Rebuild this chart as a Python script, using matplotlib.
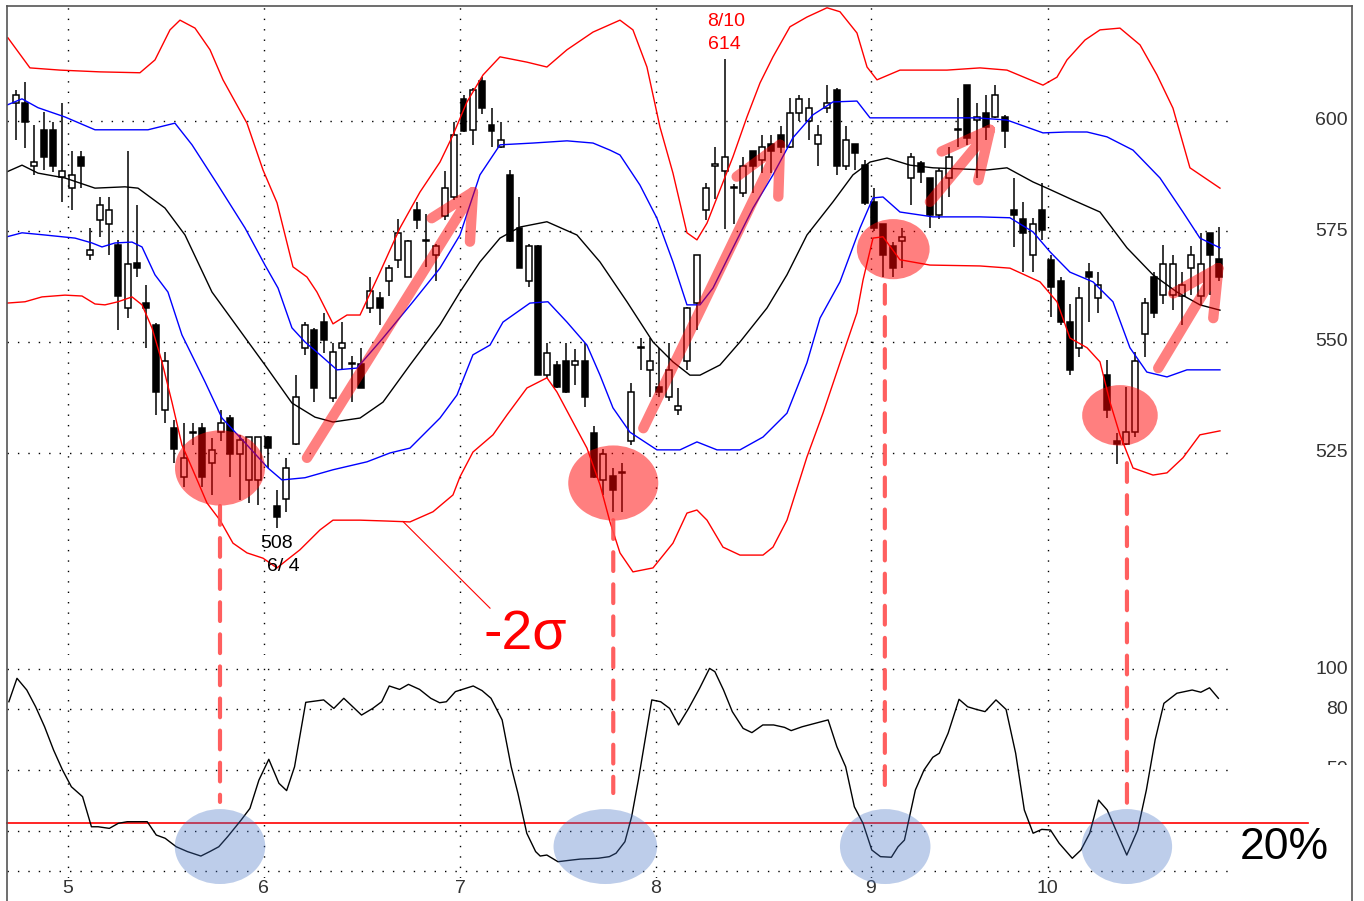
import numpy as np
import matplotlib
matplotlib.use("Agg")
import matplotlib.pyplot as plt
from matplotlib.patches import Ellipse, Rectangle, ConnectionPatch
from matplotlib.lines import Line2D

# ---------------- data ----------------
open_ = [604.0, 604.0, 589.7, 598.0, 598.0, 587.4, 584.8, 591.9, 569.7, 577.6,
         576.6, 571.9, 557.6, 567.8, 558.9, 553.9, 534.6, 530.6, 519.5, 529.6,
         530.6, 522.6, 529.6, 532.7, 524.6, 518.8, 518.8, 528.4, 512.8, 514.5,
         526.9, 548.6, 552.7, 554.6, 537.4, 548.6, 545.0, 545.0, 557.6, 559.9,
         563.7, 568.6, 564.8, 579.9, 572.9, 569.7, 578.4, 582.7, 605.0, 598.0,
         609.0, 599.0, 594.2, 587.8, 575.7, 563.7, 571.8, 542.5, 544.8, 545.7,
         544.8, 545.7, 529.5, 518.8, 519.7, 520.5, 527.5, 548.6, 543.7, 539.9,
         537.6, 534.6, 545.7, 558.8, 579.9, 589.9, 588.7, 584.8, 583.6, 593.1,
         591.2, 594.8, 596.8, 594.2, 601.7, 599.9, 594.8, 602.9, 607.0, 589.7,
         594.8, 590.1, 581.7, 576.6, 571.8, 572.9, 587.0, 590.6, 587.0, 578.7,
         587.0, 598.0, 608.1, 600.2, 601.7, 601.0, 601.0, 579.9, 577.8, 569.7,
         579.9, 568.5, 563.7, 554.6, 548.7, 565.8, 560.0, 542.5, 527.5, 526.9,
         529.6, 551.7, 564.8, 560.6, 560.6, 560.3, 566.8, 560.5, 574.6, 568.8]
high_ = [607.0, 608.9, 599.1, 602.1, 599.8, 604.0, 593.1, 593.1, 575.7, 582.9,
         582.9, 573.1, 593.1, 581.0, 562.8, 554.2, 547.7, 532.4, 531.6, 531.6,
         531.6, 528.2, 534.6, 533.5, 529.0, 528.6, 528.6, 528.8, 516.5, 523.7,
         542.5, 554.6, 553.1, 556.5, 549.7, 554.5, 546.9, 548.6, 564.8, 561.4,
         567.4, 577.8, 573.1, 581.7, 578.9, 572.1, 588.7, 599.8, 605.9, 607.4,
         610.0, 603.0, 599.8, 588.9, 582.9, 572.1, 571.9, 549.7, 545.6, 549.7,
         548.4, 549.7, 530.9, 525.7, 521.5, 522.6, 540.7, 550.8, 550.8, 548.6,
         549.7, 539.7, 558.0, 569.7, 585.9, 594.2, 614.0, 585.7, 591.9, 593.1,
         596.8, 596.8, 598.9, 605.1, 605.9, 605.1, 599.1, 608.1, 607.4, 598.9,
         594.8, 591.2, 584.8, 576.6, 572.7, 575.7, 592.7, 590.9, 587.0, 589.3,
         594.2, 605.1, 608.1, 604.0, 605.9, 608.1, 601.4, 587.0, 581.7, 578.0,
         585.9, 569.7, 564.8, 558.7, 562.5, 567.8, 565.9, 545.9, 529.4, 539.9,
         547.8, 559.9, 565.9, 571.9, 569.7, 565.9, 571.8, 574.6, 574.6, 575.9]
low_ = [595.7, 593.8, 587.8, 588.9, 588.5, 581.7, 579.9, 584.8, 568.5, 573.8,
        569.7, 552.7, 555.4, 564.8, 548.6, 533.5, 531.6, 522.6, 517.3, 526.7,
        517.3, 515.4, 527.5, 519.5, 514.3, 513.5, 513.1, 521.4, 508.0, 511.6,
        526.7, 547.1, 536.5, 547.4, 536.5, 544.0, 536.5, 539.5, 556.5, 553.9,
        560.5, 566.7, 564.6, 575.6, 567.0, 563.7, 577.6, 582.1, 597.6, 594.6,
        601.5, 594.0, 593.8, 572.7, 566.7, 562.5, 542.5, 541.8, 539.5, 538.4,
        540.3, 535.4, 519.2, 515.4, 511.6, 511.6, 526.7, 543.7, 537.6, 537.6,
        536.7, 533.5, 543.7, 552.7, 577.6, 582.4, 575.6, 576.6, 582.7, 583.6,
        588.2, 588.2, 592.7, 593.8, 599.9, 595.7, 589.7, 601.7, 587.8, 588.9,
        588.9, 581.0, 575.0, 564.8, 564.8, 566.7, 581.0, 585.9, 575.7, 577.8,
        582.7, 594.2, 594.6, 587.0, 595.7, 600.6, 593.8, 571.6, 565.8, 565.8,
        573.1, 555.7, 553.9, 542.5, 546.7, 554.6, 556.5, 532.7, 522.3, 526.7,
        528.6, 546.7, 555.4, 558.7, 557.2, 553.9, 560.6, 558.4, 560.6, 563.7]
close_ = [605.9, 599.8, 590.8, 591.9, 589.7, 588.7, 587.8, 589.7, 570.8, 581.0,
          579.9, 560.5, 567.6, 566.8, 557.8, 538.8, 545.7, 525.8, 523.7, 529.4,
          519.5, 525.6, 531.6, 524.6, 527.8, 528.4, 528.4, 526.0, 510.5, 521.4,
          537.6, 553.9, 539.5, 550.5, 547.7, 549.7, 545.0, 539.7, 561.5, 557.6,
          566.8, 574.6, 572.9, 577.6, 572.9, 571.8, 584.8, 596.8, 597.7, 607.0,
          602.9, 597.7, 595.7, 572.9, 566.8, 571.8, 542.5, 547.4, 539.9, 538.8,
          545.7, 537.6, 519.5, 524.7, 516.5, 520.4, 538.8, 548.6, 545.7, 538.8,
          543.7, 535.6, 557.8, 569.7, 584.8, 589.9, 591.9, 584.8, 589.7, 589.7,
          594.2, 593.1, 594.2, 601.7, 605.0, 602.9, 596.8, 604.0, 589.7, 595.7,
          592.8, 581.5, 575.7, 569.7, 566.8, 573.8, 591.9, 588.5, 578.7, 588.7,
          591.9, 598.0, 596.1, 601.0, 598.7, 605.9, 597.7, 578.7, 574.6, 576.6,
          575.3, 562.5, 554.5, 543.7, 559.9, 564.8, 562.8, 534.6, 526.9, 529.6,
          545.7, 558.8, 556.5, 567.6, 567.6, 562.8, 569.7, 567.6, 569.7, 564.8]

# Bollinger bands (day index, price)
upper2_x = [-0.83, 1.53, 4.75, 9.04, 13.32, 14.93, 16.54, 17.61, 19.22, 20.83, 22.22, 24.79, 26.51,
            28.01, 29.72, 31.22, 32.29, 34.01, 35.51, 36.91, 39.05, 41.19, 43.33, 45.48, 46.87,
            48.37, 50.09, 51.91, 54.8, 56.94, 59.09, 61.88, 64.77, 66.16, 67.66, 69.06, 70.45,
            71.95, 73.02, 74.1, 75.49, 76.88, 78.38, 79.78, 81.17, 82.99, 84.81, 86.96, 88.35,
            90.17, 91.25, 92.32, 94.78, 99.82, 103.36, 106.25, 110.11, 111.61, 112.68, 114.61,
            116.22, 118.36, 120.51, 122.33, 124.04, 125.86, 129.08]
upper2_y = [618.8, 612.0, 611.5, 611.1, 610.9, 613.8, 620.6, 622.8, 621.0, 616.1, 609.3, 599.5, 588.9,
            581.5, 567.0, 564.7, 561.3, 554.1, 556.1, 556.1, 565.8, 575.8, 583.9, 590.7, 596.8,
            604.3, 610.4, 614.5, 613.3, 612.2, 616.1, 620.1, 622.8, 620.6, 612.2, 598.6, 588.2,
            574.7, 573.1, 576.9, 584.4, 591.9, 600.9, 608.6, 614.5, 621.3, 623.5, 625.6, 624.7,
            619.9, 612.2, 609.3, 611.5, 611.5, 612.0, 611.5, 608.1, 609.9, 613.8, 618.3,
            620.6, 621.0, 617.2, 610.4, 602.9, 589.4, 584.8]
upper1_x = [-0.93, 0.68, 2.39, 5.28, 8.5, 14.18, 17.07, 18.9, 21.68, 24.58, 26.72, 28.12, 29.61,
            31.01, 32.62, 34.44, 36.58, 39.37, 42.58, 45.48, 47.62, 49.76, 51.91, 55.44, 59.09,
            61.88, 63.7, 64.77, 66.91, 68.73, 70.45, 71.95, 73.35, 74.74, 76.88, 79.03, 81.17,
            83.31, 85.46, 87.6, 90.17, 91.57, 93.39, 98.32, 103.03, 106.25, 110.11, 112.68,
            114.83, 116.97, 119.76, 122.65, 125.11, 126.93, 129.08]
upper1_y = [603.6, 605.0, 603.0, 600.9, 598.0, 598.0, 599.5, 594.6, 585.5, 575.8, 567.4, 562.2, 553.2,
            550.0, 547.1, 543.7, 544.1, 550.9, 559.1, 566.7, 574.2, 587.8, 594.6, 595.0, 595.5,
            595.0, 593.4, 592.3, 585.5, 578.0, 568.1, 558.4, 558.4, 562.2, 571.3, 580.3, 587.8,
            596.2, 601.4, 604.3, 604.5, 600.7, 600.7, 600.7, 600.7, 600.2, 597.3, 597.5,
            597.5, 596.4, 593.4, 587.1, 579.4, 573.5, 571.3]
mid_x = [-0.93, 0.68, 2.39, 5.28, 8.5, 11.71, 13.11, 16.0, 18.15, 21.04, 23.83, 26.72, 29.61,
         32.08, 34.01, 36.91, 39.37, 42.26, 45.48, 47.62, 49.76, 51.91, 54.05, 56.94, 60.16,
         62.63, 65.52, 68.31, 70.45, 72.27, 73.35, 75.49, 77.63, 80.53, 82.67, 84.81, 87.6,
         89.74, 91.57, 93.39, 95.85, 98.32, 104.11, 106.25, 109.04, 110.54, 113.33, 116.22,
         119.11, 121.9, 124.47, 126.93, 129.08]
mid_y = [588.5, 590.0, 588.2, 587.1, 584.8, 585.1, 584.8, 580.3, 574.2, 561.3, 553.2, 544.8, 536.2,
         533.0, 531.9, 532.8, 536.4, 544.8, 553.9, 561.3, 568.1, 573.5, 576.0, 577.2, 574.2,
         568.1, 559.1, 550.0, 545.5, 542.5, 542.5, 544.8, 550.0, 557.7, 565.2, 574.2, 581.7,
         587.8, 590.7, 591.6, 590.0, 589.4, 588.9, 589.4, 586.2, 584.8, 582.1, 579.4,
         571.3, 565.2, 561.3, 558.4, 557.2]
lower1_x = [-0.93, 0.68, 3.14, 6.36, 8.18, 9.25, 10.64, 12.47, 13.54, 14.93, 16.32, 17.82, 20.29,
            22.11, 24.58, 27.04, 28.54, 31.01, 34.01, 37.66, 40.12, 42.26, 45.48, 47.3, 49.01,
            50.84, 52.23, 55.12, 57.05, 59.09, 61.23, 62.63, 64.02, 65.84, 68.73, 71.2, 73.02,
            75.17, 77.63, 80.1, 82.67, 84.81, 86.21, 88.35, 90.5, 91.89, 92.96, 94.78, 98.32,
            103.36, 106.57, 109.04, 110.86, 113.0, 115.47, 117.61, 119.43, 121.24, 123.4,
            125.54, 129.08]
lower1_y = [573.8, 574.7, 574.2, 573.5, 572.4, 571.5, 572.4, 572.6, 571.5, 565.2, 561.3, 551.6, 541.0,
            532.8, 527.2, 521.5, 518.8, 519.3, 521.1, 522.9, 524.9, 526.0, 532.8, 538.0, 547.1,
            549.3, 554.5, 558.8, 559.1, 554.5, 549.3, 542.5, 535.1, 529.6, 525.6, 525.6, 527.4,
            525.6, 525.6, 528.5, 533.9, 545.3, 555.4, 563.6, 575.8, 582.6, 582.8, 579.4, 578.3,
            578.3, 578.1, 574.9, 570.4, 565.8, 563.6, 559.1, 548.7, 543.2, 542.1,
            543.7, 543.7]
lower2_x = [-0.93, 1.0, 2.82, 5.28, 7.11, 8.5, 9.57, 10.97, 12.47, 13.54, 14.61, 15.68, 16.75,
            17.82, 18.9, 20.5, 21.9, 23.29, 24.79, 26.51, 28.01, 29.08, 30.47, 32.62, 34.01,
            36.91, 39.8, 42.26, 44.73, 46.87, 47.62, 49.01, 51.16, 52.66, 54.8, 56.94, 58.01,
            59.73, 61.23, 62.63, 63.7, 64.77, 66.16, 68.31, 70.45, 71.95, 73.02, 74.1, 75.81,
            77.63, 80.1, 81.17, 82.67, 84.81, 86.53, 88.35, 90.17, 90.82, 91.89, 92.96, 94.78,
            97.99, 103.36, 106.57, 109.79, 111.61, 113.0, 114.83, 116.22, 117.29, 118.36,
            119.76, 121.9, 123.4, 125.11, 126.93, 129.08]
lower2_y = [558.8, 559.1, 560.2, 560.6, 560.4, 558.6, 558.4, 559.1, 560.2, 558.4, 553.2, 545.5, 536.4,
            526.7, 521.5, 513.6, 509.7, 504.5, 502.3, 501.1, 498.9, 500.7, 503.0, 507.5, 509.7,
            509.7, 509.5, 509.3, 511.6, 515.4, 519.5, 525.1, 529.0, 533.5, 539.6, 541.9, 538.7,
            531.9, 526.0, 517.7, 509.3, 502.3, 498.0, 498.9, 504.5, 511.3, 512.0, 509.7, 503.6,
            501.8, 501.8, 503.6, 509.7, 524.0, 533.9, 545.3, 556.6, 564.0, 573.5, 573.8, 568.6,
            567.4, 567.2, 566.7, 563.6, 559.1, 550.9, 548.7, 545.5, 536.4, 529.0,
            521.5, 519.9, 520.4, 523.8, 529.0, 529.9]

# oscillator (%)
osc_x = [-0.73, 0.14, 1.19, 2.14, 3.1, 4.06, 5.02, 5.97, 7.17, 8.12, 8.84, 10.04, 11.0, 11.95, 14.1,
         15.07, 16.02, 17.21, 18.41, 19.85, 20.8, 21.77, 22.72, 24.16, 25.11, 26.07, 27.13, 28.22,
         29.04, 29.89, 31.09, 33.01, 34.1, 35.17, 37.07, 38.27, 39.23, 40.04, 41.15, 42.1, 43.29,
         44.49, 45.44, 46.16, 47.13, 49.04, 49.99, 50.95, 52.14, 53.11, 53.83, 54.78, 55.73, 56.22,
         56.93, 58.12, 59.56, 60.52, 62.43, 63.63, 64.35, 65.3, 66.02, 66.74, 67.46, 68.18, 69.13,
         70.09, 71.05, 72.13, 73.3, 74.37, 74.94, 75.87, 76.81, 77.97, 78.91, 80.08, 81.24, 82.41,
         83.12, 84.29, 85.68, 87.08, 88.02, 88.96, 89.89, 90.82, 91.76, 92.69, 93.86, 94.57, 95.26,
         96.43, 97.36, 98.3, 99.0, 99.94, 101.11, 102.04, 102.97, 103.9, 105.07, 106.15, 107.18,
         108.11, 109.05, 109.98, 110.91, 111.85, 113.25, 114.18, 115.12, 116.06, 116.99, 117.92,
         119.09, 120.26, 121.19, 122.13, 123.07, 124.46, 126.1, 127.03, 127.96, 128.91]
osc_y = [83.8, 95.4, 89.6, 81.3, 71.4, 59.9, 50.0, 41.7, 36.8, 21.9, 21.9, 21.1, 23.6, 24.4, 24.4,
         17.8, 16.2, 12.0, 9.6, 7.4, 9.6, 12.0, 17.0, 25.2, 31.0, 45.0, 55.3, 43.4,
         39.8, 51.6, 83.5, 84.7, 80.5, 85.5, 77.2, 80.5, 83.8, 91.6, 89.9, 92.4, 89.9,
         85.5, 83.3, 83.8, 88.8, 91.6, 89.3, 85.5, 74.8, 51.6, 38.5, 18.7, 9.6, 7.4,
         7.9, 4.6, 5.4, 5.9, 6.3, 7.1, 8.8, 14.5, 26.9, 45.0, 64.9, 84.7, 83.8,
         80.5, 72.3, 80.5, 90.4, 100.3, 98.7, 89.6, 78.9, 70.6, 68.5, 72.3, 72.3, 71.1,
         69.5, 71.4, 73.1, 74.8, 61.5, 51.6, 31.8, 23.6, 10.4, 7.1, 6.8, 12.0, 15.3,
         40.1, 50.0, 56.3, 58.3, 68.2, 85.0, 81.3, 80.0, 78.9, 84.7, 80.0, 58.3,
         30.2, 18.7, 20.6, 20.3, 13.7, 6.3, 10.4, 18.7, 35.1, 30.2, 20.3,
         7.9, 20.3, 40.1, 64.9, 83.0, 88.0, 89.6, 88.5, 90.7, 85.5]

month_pos = [5.57, 26.58, 47.62, 68.63, 91.64, 110.61]
month_labels = ["5", "6", "7", "8", "9", "10"]
price_ticks = [600, 575, 550, 525]
osc_ticks = [100, 80, 50, 20, 0]
osc_labels = ["100", "80", "50"]

# ---------------- figure ----------------
W, H = 1364, 901
fig = plt.figure(figsize=(W / 100, H / 100), dpi=100)
fig.patch.set_facecolor("white")

def fx(px):
    return px / W

def fy(py):
    return 1 - py / H

L, R = 7, 1228
ax1 = fig.add_axes([fx(L), fy(655), (R - L) / W, (655 - 6) / H])
ax2 = fig.add_axes([fx(L), fy(878), (R - L) / W, (878 - 660) / H])
for ax in (ax1, ax2):
    ax.set_xlim(-0.93, 129.94)
    for s in ax.spines.values():
        s.set_visible(False)
    ax.set_xticks([])
    ax.set_yticks([])
    ax.patch.set_alpha(0)
ax1.set_ylim(479.2, 626.0)
ax2.set_ylim(-3.47, 104.46)

dot = dict(color="black", lw=1.0, ls=(0, (1, 6.5)), zorder=1)
for m in month_pos:
    ax1.axvline(m, **dot)
    ax2.axvline(m, **dot)
for p in price_ticks:
    ax1.axhline(p, **dot)
for v in osc_ticks:
    ax2.axhline(v, **dot)

# candles
o = np.array(open_); h = np.array(high_); lo = np.array(low_); c = np.array(close_)
x = np.arange(len(c))
ax1.vlines(x, lo, h, color="black", lw=1.1, zorder=3)
up = c >= o
body = np.maximum(np.abs(c - o), 0.25)
bot = np.minimum(o, c)
ax1.bar(x[up], body[up], bottom=bot[up], width=0.64, color="white",
        edgecolor="black", linewidth=1.1, zorder=4)
ax1.bar(x[~up], body[~up], bottom=bot[~up], width=0.64, color="black",
        edgecolor="black", linewidth=1.1, zorder=4)

# bands
blw = 1.0
ax1.plot(upper2_x, upper2_y, color="#ff0000", lw=blw, zorder=5)
ax1.plot(lower2_x, lower2_y, color="#ff0000", lw=blw, zorder=5)
ax1.plot(upper1_x, upper1_y, color="#0000ff", lw=blw, zorder=5)
ax1.plot(lower1_x, lower1_y, color="#0000ff", lw=blw, zorder=5)
ax1.plot(mid_x, mid_y, color="black", lw=blw, zorder=5)

# oscillator
ax2.plot(osc_x, osc_y, color="black", lw=1.0, zorder=5)

# ---------- annotations ----------
RED_A = (1.0, 0.0, 0.0, 0.5)
for (cx, cy, w, hh) in [(21.9, 521.5, 9.65, 17.0), (64.05, 518.1, 9.65, 17.0),
                        (94.06, 571.0, 7.8, 13.6), (118.36, 533.4, 8.1, 13.7)]:
    ax1.add_patch(Ellipse((cx, cy), w, hh, facecolor=RED_A, edgecolor="none", zorder=6))

BLUE_A = (0.267, 0.447, 0.769, 0.35)
for (cx, w) in [(21.9, 9.7), (63.2, 11.1), (93.2, 9.7), (119.1, 9.7)]:
    ax2.add_patch(Ellipse((cx, 12.1), w, 37.1, facecolor=BLUE_A, edgecolor="none",
                          zorder=6, clip_on=False))

# dashed connectors
for (xi, pa, vb) in [(21.9, 512.9, 34.2), (64.05, 509.7, 38.6),
                     (93.16, 562.9, 41.6), (119.11, 522.6, 31.2)]:
    cp = ConnectionPatch(xyA=(xi, pa), coordsA=ax1.transData, xyB=(xi, vb), coordsB=ax2.transData,
                         color=(1, 0.3, 0.3, 0.9), lw=3.0, ls=(0, (4.5, 3.2)), zorder=7)
    fig.add_artist(cp)

# arrows (shaft + head as one path)
arrows = [
    ([31.22, 49.01, np.nan, 44.59, 49.01, 48.69], [523.8, 583.9, np.nan, 578.0, 583.9, 572.7]),
    ([67.27, 81.92, np.nan, 77.28, 81.92, 81.74], [530.5, 594.6, np.nan, 587.4, 594.6, 582.9]),
    ([97.99, 104.42, np.nan, 99.25, 104.42, 103.17], [581.7, 598.0, np.nan, 593.1, 598.0, 586.6]),
    ([122.46, 128.9, np.nan, 124.07, 128.9, 128.36], [544.1, 566.7, np.nan, 561.0, 566.7, 555.4]),
]
for ax_, ay_ in arrows:
    ax1.plot(ax_, ay_, color=RED_A, lw=7.5, solid_capstyle="round",
             solid_joinstyle="round", zorder=8)

# -2sigma callout
ax1.plot([41.51, 50.84], [509.4, 489.8], color="red", lw=0.8, zorder=5, clip_on=False)
ax1.text(54.6, 483.7, "-2σ", color="red", fontsize=40, ha="center", va="center",
         family=["Liberation Sans", "DejaVu Sans"], zorder=9)

lab_font = ["Liberation Sans", "DejaVu Sans"]
ax1.text(28.0, 504.5, "508", color="black", fontsize=14, ha="center", va="center", family=lab_font, zorder=9)
ax1.text(28.65, 499.3, "6/ 4", color="black", fontsize=14, ha="center", va="center", family=lab_font, zorder=9)
ax1.text(76.1, 622.4, "8/10", color="red", fontsize=14, ha="center", va="center", family=lab_font, zorder=9)
ax1.text(76.0, 617.2, "614", color="red", fontsize=14, ha="center", va="center", family=lab_font, zorder=9)

# right axis labels
lab_x = (1348 - L) / (R - L)
for p in price_ticks:
    ax1.text(lab_x, p, str(p), transform=ax1.get_yaxis_transform(), ha="right", va="center",
             fontsize=14, color="#333333", family=lab_font, clip_on=False)
for v, s in zip(osc_ticks[:3], osc_labels):
    ax2.text(lab_x, v, s, transform=ax2.get_yaxis_transform(), ha="right", va="center",
             fontsize=14, color="#333333", family=lab_font, clip_on=False, zorder=2)
# white cover hiding lower labels
ax2.add_patch(Rectangle(((1290 - L) / (R - L), -10), (1350 - 1290) / (R - L), 62.5,
                        transform=ax2.get_yaxis_transform(), facecolor="white",
                        edgecolor="none", clip_on=False, zorder=2.5))

# month labels
for m, s in zip(month_pos, month_labels):
    ax2.text(m, -0.046, s, transform=ax2.get_xaxis_transform(), ha="center", va="center",
             fontsize=14, color="#333333", family=lab_font, clip_on=False)

# 20% line + label
ax2.plot([0, (1308 - L) / (R - L)], [23.8, 23.8], transform=ax2.get_yaxis_transform(),
         color="red", lw=1.2, clip_on=False, zorder=4)
ax2.text((1284 - L) / (R - L), 11.4, "20%", transform=ax2.get_yaxis_transform(),
         ha="center", va="center", fontsize=32, color="black",
         family=["Liberation Sans", "DejaVu Sans"], clip_on=False, zorder=9)

# outer frame
fc = "#555555"
fig.add_artist(Line2D([fx(7), fx(7)], [fy(6), 0], transform=fig.transFigure, color=fc, lw=1.2))
fig.add_artist(Line2D([fx(7), fx(1352)], [fy(6), fy(6)], transform=fig.transFigure, color=fc, lw=1.2))
fig.add_artist(Line2D([fx(1352), fx(1352)], [fy(6), 0], transform=fig.transFigure, color=fc, lw=1.2))

fig.savefig("out.png", dpi=100)
